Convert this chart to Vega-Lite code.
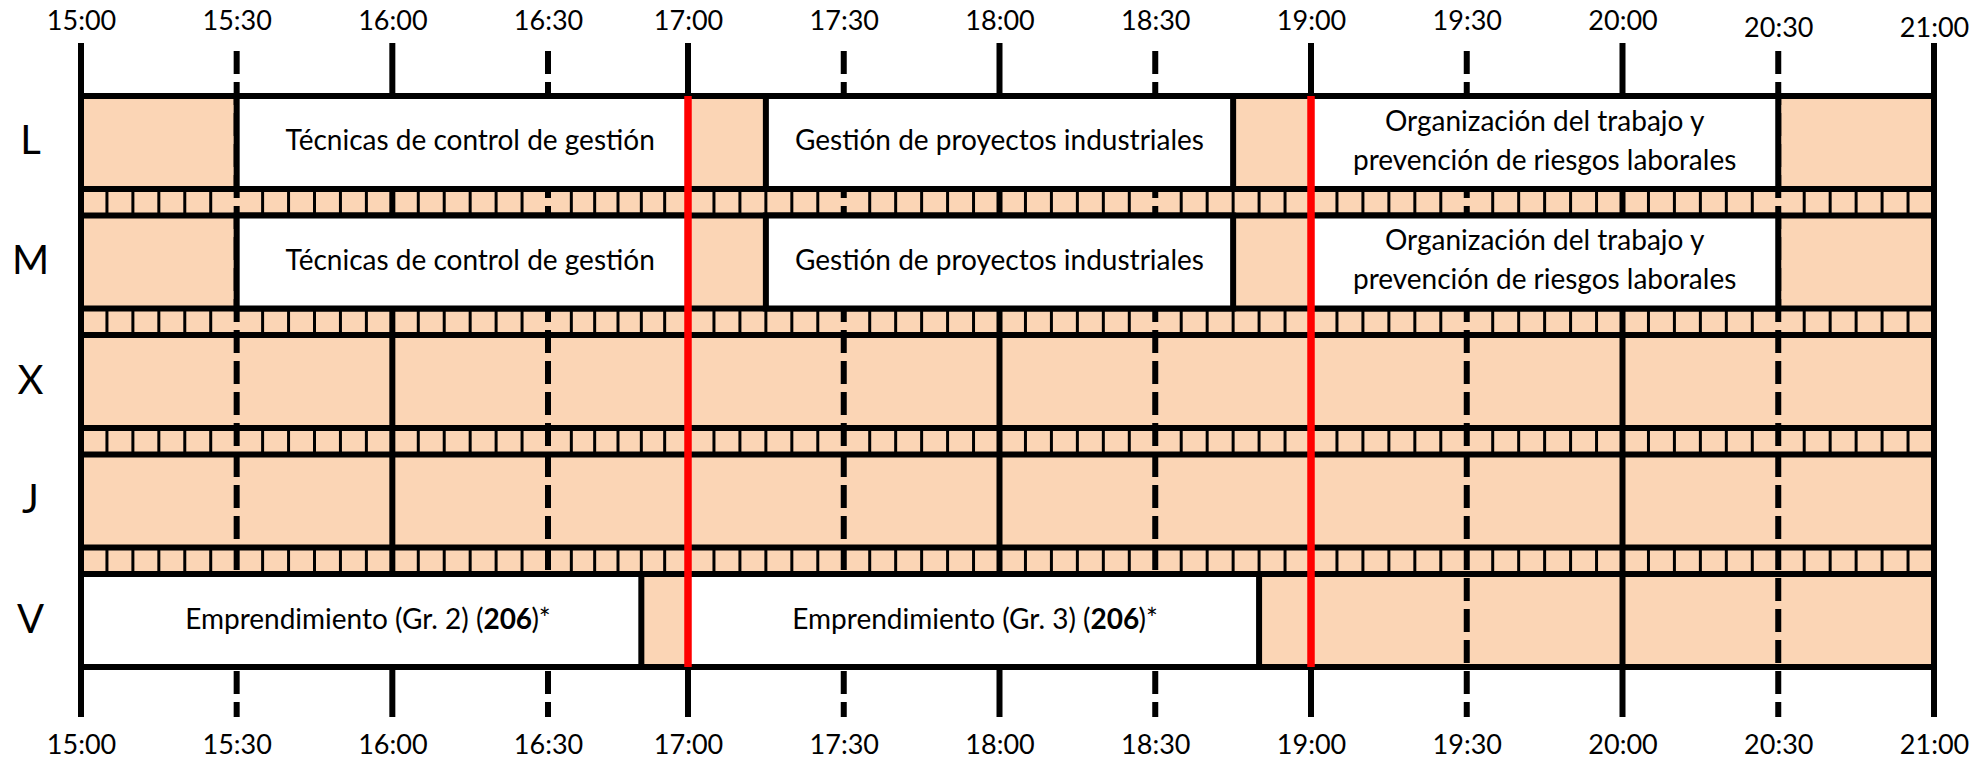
{
  "$schema": "https://vega.github.io/schema/vega-lite/v6.json",
  "width": 1853,
  "height": 674,
  "autosize": {"type": "none"},
  "padding": {"left": 81, "top": 43, "right": 53, "bottom": 44},
  "background": "white",
  "config": {"view": {"stroke": null}, "font": "Lato", "text": {"font": "Lato", "color": "black"}},
  "datasets": {
    "days": [{"day": "L"}, {"day": "M"}, {"day": "X"}, {"day": "J"}, {"day": "V"}],
    "slots": [
      {"min": 900}, {"min": 930}, {"min": 960}, {"min": 990}, {"min": 1020}, {"min": 1050}, {"min": 1080},
      {"min": 1110}, {"min": 1140}, {"min": 1170}, {"min": 1200}, {"min": 1230}, {"min": 1260}
    ],
    "fine": [
      {"min": 905}, {"min": 910}, {"min": 915}, {"min": 920}, {"min": 925}, {"min": 935}, {"min": 940}, {"min": 945}, {"min": 950}, {"min": 955},
      {"min": 965}, {"min": 970}, {"min": 975}, {"min": 980}, {"min": 985}, {"min": 995}, {"min": 1000}, {"min": 1005}, {"min": 1010}, {"min": 1015},
      {"min": 1025}, {"min": 1030}, {"min": 1035}, {"min": 1040}, {"min": 1045}, {"min": 1055}, {"min": 1060}, {"min": 1065}, {"min": 1070}, {"min": 1075},
      {"min": 1085}, {"min": 1090}, {"min": 1095}, {"min": 1100}, {"min": 1105}, {"min": 1115}, {"min": 1120}, {"min": 1125}, {"min": 1130}, {"min": 1135},
      {"min": 1145}, {"min": 1150}, {"min": 1155}, {"min": 1160}, {"min": 1165}, {"min": 1175}, {"min": 1180}, {"min": 1185}, {"min": 1190}, {"min": 1195},
      {"min": 1205}, {"min": 1210}, {"min": 1215}, {"min": 1220}, {"min": 1225}, {"min": 1235}, {"min": 1240}, {"min": 1245}, {"min": 1250}, {"min": 1255}
    ],
    "classes": [
      {"day": "L", "start": 930, "end": 1020, "subject": "Técnicas de control de gestión"},
      {"day": "L", "start": 1035, "end": 1125, "subject": "Gestión de proyectos industriales"},
      {"day": "L", "start": 1140, "end": 1230, "subject": "Organización del trabajo y\nprevención de riesgos laborales"},
      {"day": "M", "start": 930, "end": 1020, "subject": "Técnicas de control de gestión"},
      {"day": "M", "start": 1035, "end": 1125, "subject": "Gestión de proyectos industriales"},
      {"day": "M", "start": 1140, "end": 1230, "subject": "Organización del trabajo y\nprevención de riesgos laborales"},
      {"day": "V", "start": 900, "end": 1010, "subject": "Emprendimiento (Gr. 2)", "room": "206"},
      {"day": "V", "start": 1020, "end": 1130, "subject": "Emprendimiento (Gr. 3)", "room": "206"}
    ],
    "limits": [{"min": 1020}, {"min": 1140}]
  },
  "resolve": {"scale": {"y": "independent"}, "axis": {"x": "independent", "y": "independent"}},
  "layer": [
    {
      "layer": [
        {
          "data": {"name": "days"},
          "transform": [{"filter": "datum.day == 'L'"}],
          "mark": {"type": "rect", "fill": "#FBD5B5", "stroke": "black", "strokeWidth": 6},
          "encoding": {
            "y": {"datum": "L", "type": "nominal", "scale": {"type": "point", "domain": ["L", "M", "X", "J", "V"], "range": [53, 624], "padding": 0}, "axis": null},
            "y2": {"datum": "V"}
          }
        },
        {
          "data": {"name": "fine"},
          "mark": {"type": "rule", "stroke": "black", "strokeWidth": 3},
          "encoding": {
            "x": {
              "field": "min", "type": "quantitative",
              "scale": {"domain": [900, 990, 1020, 1260], "range": [0, 467, 607, 1853], "nice": false, "zero": false},
              "axis": {"orient": "top", "title": null, "domain": false, "ticks": false, "tickSize": 0, "grid": false, "values": [900, 930, 960, 990, 1020, 1050, 1080, 1110, 1140, 1170, 1200, 1230, 1260], "labelExpr": "floor(datum.value / 60) + ':' + (datum.value % 60 == 0 ? '00' : '30')", "labelFont": "Lato", "labelFontSize": 27, "labelColor": "black", "labelPadding": {"condition": {"test": "datum.value >= 1230", "value": 7}, "value": 14}, "labelBaseline": "alphabetic", "labelFlush": false, "labelOverlap": false, "labelBound": false}
            },
            "y": {"datum": "L", "type": "nominal", "scale": {"type": "point", "domain": ["L", "M", "X", "J", "V"], "range": [53, 624], "padding": 0}, "axis": null},
            "y2": {"datum": "V"}
          }
        }
      ]
    },
    {
      "layer": [
        {
          "data": {"name": "days"},
          "mark": {"type": "rect", "fill": "#FBD5B5", "stroke": "black", "strokeWidth": 6},
          "encoding": {
            "y": {"field": "day", "type": "nominal", "sort": null,
              "scale": {"type": "band", "domain": ["L", "M", "X", "J", "V"], "range": [53, 624], "paddingInner": 0.222, "paddingOuter": 0},
              "axis": {"orient": "left", "title": null, "domain": false, "ticks": false, "tickSize": 0, "grid": false, "labelFont": "Lato", "labelFontSize": 40, "labelColor": "black", "labelAlign": "center", "labelBaseline": "middle", "labelPadding": 51}
            }
          }
        },
        {
          "data": {"name": "slots"},
          "mark": {"type": "rule", "stroke": "black", "strokeWidth": 6, "strokeDashOffset": 23},
          "encoding": {
            "x": {"field": "min", "type": "quantitative", "axis": null,
              "scale": {"domain": [900, 990, 1020, 1260], "range": [0, 467, 607, 1853], "nice": false, "zero": false}},
            "strokeDash": {"condition": {"test": "datum.min % 60 == 30", "value": [23, 8]}, "value": [1, 0]}
          }
        },
        {
          "data": {"name": "classes"},
          "mark": {"type": "rect", "fill": "white", "stroke": "black", "strokeWidth": 6},
          "encoding": {
            "x": {"field": "start", "type": "quantitative", "axis": null,
              "scale": {"domain": [900, 990, 1020, 1260], "range": [0, 467, 607, 1853], "nice": false, "zero": false}},
            "x2": {"field": "end"},
            "y": {"field": "day", "type": "nominal", "sort": null}
          }
        },
        {
          "data": {"name": "classes"},
          "transform": [
            {"filter": "datum.room == null && indexof(datum.subject, '\\n') < 0"},
            {"calculate": "(datum.start + datum.end) / 2", "as": "mid"}
          ],
          "mark": {"type": "text", "font": "Lato", "fontSize": 28, "align": "center", "baseline": "middle"},
          "encoding": {
            "x": {"field": "mid", "type": "quantitative", "axis": null,
              "scale": {"domain": [900, 990, 1020, 1260], "range": [0, 467, 607, 1853], "nice": false, "zero": false}},
            "y": {"field": "day", "type": "nominal", "sort": null},
            "text": {"field": "subject"}
          }
        },
        {
          "data": {"name": "classes"},
          "transform": [
            {"filter": "datum.room == null && indexof(datum.subject, '\\n') >= 0"},
            {"calculate": "(datum.start + datum.end) / 2", "as": "mid"}
          ],
          "mark": {"type": "text", "font": "Lato", "fontSize": 28, "align": "center", "baseline": "middle", "lineBreak": "\n", "lineHeight": 39, "dy": -19.5},
          "encoding": {
            "x": {"field": "mid", "type": "quantitative", "axis": null,
              "scale": {"domain": [900, 990, 1020, 1260], "range": [0, 467, 607, 1853], "nice": false, "zero": false}},
            "y": {"field": "day", "type": "nominal", "sort": null},
            "text": {"field": "subject"}
          }
        },
        {
          "data": {"name": "classes"},
          "transform": [
            {"filter": "datum.room != null"},
            {"calculate": "(datum.start + datum.end) / 2", "as": "mid"},
            {"calculate": "datum.subject + ' ('", "as": "lead"}
          ],
          "mark": {"type": "text", "font": "Lato", "fontSize": 28, "align": "right", "baseline": "middle", "dx": 117},
          "encoding": {
            "x": {"field": "mid", "type": "quantitative", "axis": null,
              "scale": {"domain": [900, 990, 1020, 1260], "range": [0, 467, 607, 1853], "nice": false, "zero": false}},
            "y": {"field": "day", "type": "nominal", "sort": null},
            "text": {"field": "lead"}
          }
        },
        {
          "data": {"name": "classes"},
          "transform": [
            {"filter": "datum.room != null"},
            {"calculate": "(datum.start + datum.end) / 2", "as": "mid"}
          ],
          "mark": {"type": "text", "font": "Lato", "fontSize": 28, "fontWeight": "bold", "align": "left", "baseline": "middle", "dx": 117},
          "encoding": {
            "x": {"field": "mid", "type": "quantitative", "axis": null,
              "scale": {"domain": [900, 990, 1020, 1260], "range": [0, 467, 607, 1853], "nice": false, "zero": false}},
            "y": {"field": "day", "type": "nominal", "sort": null},
            "text": {"field": "room"}
          }
        },
        {
          "data": {"name": "classes"},
          "transform": [
            {"filter": "datum.room != null"},
            {"calculate": "(datum.start + datum.end) / 2", "as": "mid"}
          ],
          "mark": {"type": "text", "font": "Lato", "fontSize": 28, "align": "left", "baseline": "middle", "dx": 165},
          "encoding": {
            "x": {"field": "mid", "type": "quantitative", "axis": null,
              "scale": {"domain": [900, 990, 1020, 1260], "range": [0, 467, 607, 1853], "nice": false, "zero": false}},
            "y": {"field": "day", "type": "nominal", "sort": null},
            "text": {"value": ")*"}
          }
        }
      ]
    },
    {
      "data": {"name": "limits"},
      "mark": {"type": "rule", "stroke": "#FF0000", "strokeWidth": 7.5},
      "encoding": {
        "x": {
          "field": "min", "type": "quantitative",
          "scale": {"domain": [900, 990, 1020, 1260], "range": [0, 467, 607, 1853], "nice": false, "zero": false},
          "axis": {"orient": "bottom", "title": null, "domain": false, "ticks": false, "tickSize": 0, "grid": false, "values": [900, 930, 960, 990, 1020, 1050, 1080, 1110, 1140, 1170, 1200, 1230, 1260], "labelExpr": "floor(datum.value / 60) + ':' + (datum.value % 60 == 0 ? '00' : '30')", "labelFont": "Lato", "labelFontSize": 27, "labelColor": "black", "labelPadding": 36, "labelBaseline": "alphabetic", "labelFlush": false, "labelOverlap": false, "labelBound": false}
        },
        "y": {"datum": "L", "type": "nominal", "scale": {"type": "point", "domain": ["L", "M", "X", "J", "V"], "range": [53, 624], "padding": 0}, "axis": null},
        "y2": {"datum": "V"}
      }
    }
  ]
}
